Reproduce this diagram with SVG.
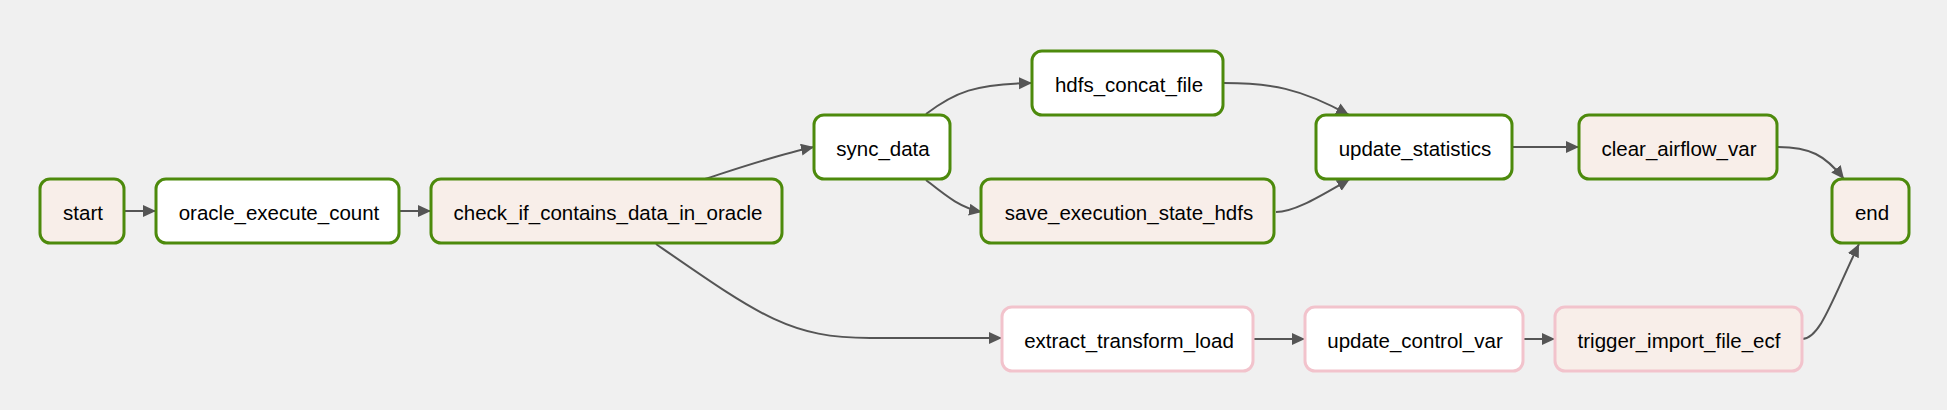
<svg xmlns="http://www.w3.org/2000/svg" width="1947" height="410" viewBox="0 0 1947 410">
<style>
.n rect{stroke-width:3}
.ok rect{stroke:#4d8a0c}
.pk rect{stroke:#f2c3cc}
.w rect{fill:#ffffff}
.b rect{fill:#f8eee9}
.n text{font-family:"Liberation Sans",Arial,sans-serif;font-size:20.5px;fill:#000;text-anchor:middle}
.e path{fill:none;stroke:#555;stroke-width:2;marker-end:url(#ah)}
</style>
<defs>
<marker id="ah" markerUnits="userSpaceOnUse" markerWidth="14" markerHeight="13" refX="13" refY="6" orient="auto"><path d="M0,0 L13,6 L0,12 Z" fill="#555"/></marker>
</defs>
<rect width="1947" height="410" fill="#f0f0f0"/>
<g id="edges" class="e">
<path d="M124,211 L156,211"/>
<path d="M399,211 L431,211"/>
<path d="M705,179 C745,166 780,154 814,147"/>
<path d="M656,244 C760,316 790,338 870,338 L1002,338"/>
<path d="M926,114 C955,92 975,84 1032,83"/>
<path d="M926,180 C945,195 960,208 982,212"/>
<path d="M1224,83 C1270,83 1300,88 1349,115"/>
<path d="M1276,212 C1295,212 1320,196 1350,179"/>
<path d="M1512,147 L1579,147"/>
<path d="M1777,147 C1810,147 1825,155 1844,179"/>
<path d="M1253,339 L1305,339"/>
<path d="M1523,339 L1555,339"/>
<path d="M1802,339 C1820,339 1832,300 1859,244"/>
</g>
<g id="start" class="n ok b"><rect x="40" y="179" width="84" height="64" rx="10"/><text x="83" y="220">start</text></g>
<g id="oracle_execute_count" class="n ok w"><rect x="156" y="179" width="243" height="64" rx="10"/><text x="279" y="220">oracle_execute_count</text></g>
<g id="check_if_contains_data_in_oracle" class="n ok b"><rect x="431" y="179" width="351" height="64" rx="10"/><text x="608" y="220">check_if_contains_data_in_oracle</text></g>
<g id="sync_data" class="n ok w"><rect x="814" y="115" width="136" height="64" rx="10"/><text x="883" y="156">sync_data</text></g>
<g id="hdfs_concat_file" class="n ok w"><rect x="1032" y="51" width="191" height="64" rx="10"/><text x="1129" y="92">hdfs_concat_file</text></g>
<g id="save_execution_state_hdfs" class="n ok b"><rect x="981" y="179" width="293" height="64" rx="10"/><text x="1129" y="220">save_execution_state_hdfs</text></g>
<g id="update_statistics" class="n ok w"><rect x="1316" y="115" width="196" height="64" rx="10"/><text x="1415" y="156">update_statistics</text></g>
<g id="clear_airflow_var" class="n ok b"><rect x="1579" y="115" width="198" height="64" rx="10"/><text x="1679" y="156">clear_airflow_var</text></g>
<g id="end" class="n ok b"><rect x="1832" y="179" width="77" height="64" rx="10"/><text x="1872" y="220">end</text></g>
<g id="extract_transform_load" class="n pk w"><rect x="1002" y="307" width="251" height="64" rx="10"/><text x="1129" y="348">extract_transform_load</text></g>
<g id="update_control_var" class="n pk w"><rect x="1305" y="307" width="218" height="64" rx="10"/><text x="1415" y="348">update_control_var</text></g>
<g id="trigger_import_file_ecf" class="n pk b"><rect x="1555" y="307" width="247" height="64" rx="10"/><text x="1679" y="348">trigger_import_file_ecf</text></g>
</svg>
